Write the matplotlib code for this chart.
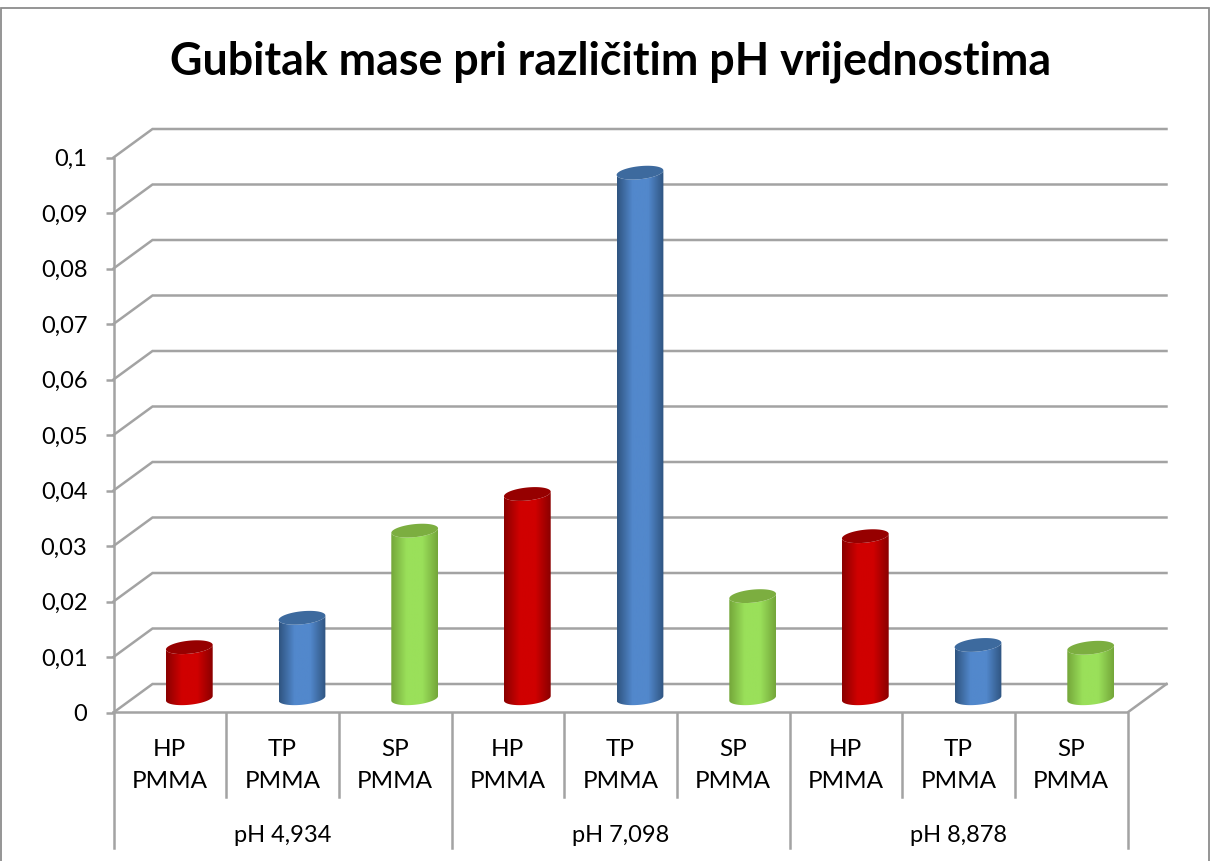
import numpy as np
import matplotlib
matplotlib.use('Agg')
import matplotlib.pyplot as plt
from matplotlib.colors import LinearSegmentedColormap
from matplotlib.patches import Polygon, Rectangle

plt.rcParams['font.family'] = ['Lato', 'DejaVu Sans']

title = 'Gubitak mase pri različitim pH vrijednostima'
groups = ['pH 4,934', 'pH 7,098', 'pH 8,878']
materials = ['HP\nPMMA', 'TP\nPMMA', 'SP\nPMMA']
values = [0.0092, 0.0145, 0.0302, 0.0368, 0.0947, 0.0184, 0.0292, 0.0096, 0.0091]
yticks = [0, 0.01, 0.02, 0.03, 0.04, 0.05, 0.06, 0.07, 0.08, 0.09, 0.1]
ylabels = ['0', '0,01', '0,02', '0,03', '0,04', '0,05', '0,06', '0,07', '0,08', '0,09', '0,1']

W, H = 1212, 861
fig = plt.figure(figsize=(W / 100, H / 100), dpi=100)
fig.patches.append(Rectangle((1 / W, -0.1), 1208 / W, 1.1 - 8 / H, transform=fig.transFigure,
                             fc='white', ec='#8c8c8c', lw=1.3, zorder=-1))

# front plane of the 3d box is the axes
left, right, bottom, top = 113.5, 1127.5, 712.5, 157.5
ax = fig.add_axes([left / W, 1 - bottom / H, (right - left) / W, (bottom - top) / H])
ax.set_xlim(0, 9)
ax.set_ylim(0, 0.1)
ax.patch.set_visible(False)
for s in ax.spines.values():
    s.set_visible(False)

px = 9 / (right - left)
py = 0.1 / (bottom - top)
dx, dy = 39 * px, 28.5 * py
grey = '#a3a3a3'
lw = 1.8

# walls
for v in yticks:
    ax.plot([0, dx, 9 + dx], [v, v + dy, v + dy], color=grey, lw=lw, clip_on=False, zorder=1,
            solid_joinstyle='miter')
ax.plot([0, 9, 9 + dx], [0, 0, dy], color=grey, lw=lw, clip_on=False, zorder=1)
ax.plot([0, 0], [-135.5 * py, 0.1], color=grey, lw=lw, clip_on=False, zorder=1)

# category separators
for i in range(1, 10):
    low = -135.5 * py if i % 3 == 0 else -84.5 * py
    ax.plot([i, i], [low, 0], color=grey, lw=lw, clip_on=False, zorder=1)

ax.set_yticks(yticks, ylabels)
ax.tick_params(axis='y', length=5.8, width=lw, color=grey, labelsize=17, pad=13, labelcolor='black')
ax.set_xticks([])

colors = [('#8a0000', '#d00000', '#960000'),
          ('#2f5480', '#5288cc', '#3d6a9e'),
          ('#74a63a', '#9ae05a', '#7cae40')]

rx, ry, tilt = 23.5, 6.5, np.radians(6)


def ellipse(cx, cy, t):
    # tilted ellipse, sizes in pixels, back to data units
    ex = rx * np.cos(t)
    ey = ry * np.sin(t)
    return (cx + (ex * np.cos(tilt) - ey * np.sin(tilt)) * px,
            cy + (ex * np.sin(tilt) + ey * np.cos(tilt)) * py)


t_low = np.linspace(np.pi, 2 * np.pi, 40)
t_all = np.linspace(0, 2 * np.pi, 80)

for i, v in enumerate(values):
    edge, mid, cap = colors[i % 3]
    cmap = LinearSegmentedColormap.from_list('c', [edge, mid, mid, edge], N=128)
    cx = i + 0.5 + dx / 2
    y0 = dy / 2
    y1 = y0 + v
    bx, by = ellipse(cx, y0, t_low)
    tx, ty = ellipse(cx, y1, t_low)
    body = Polygon(np.column_stack([np.r_[bx, tx[::-1]], np.r_[by, ty[::-1]]]),
                   transform=ax.transData, fc='none', ec='none')
    ax.add_patch(body)
    im = ax.imshow(np.linspace(0, 1, 128)[None, :], cmap=cmap, aspect='auto', zorder=3,
                   extent=[cx - rx * px, cx + rx * px, y0 - 10 * py, y1 + 10 * py])
    im.set_clip_path(body)
    ex, ey = ellipse(cx, y1, t_all)
    ax.add_patch(Polygon(np.column_stack([ex, ey]), fc=cap, ec='none', zorder=4))
ax.set_xlim(0, 9)
ax.set_ylim(0, 0.1)

# category labels
for i in range(9):
    ax.text(i + 0.5, -53 * py, materials[i % 3], ha='center', va='center', fontsize=17.5,
            linespacing=1.6, clip_on=False)
for i, g in enumerate(groups):
    ax.text(3 * i + 1.5, -122.5 * py, g, ha='center', va='center', fontsize=17, clip_on=False)

fig.text(611 / W, 1 - 62 / H, title, ha='center', va='center', fontsize=32.2, fontweight='bold')

fig.savefig('out.png', dpi=100)
